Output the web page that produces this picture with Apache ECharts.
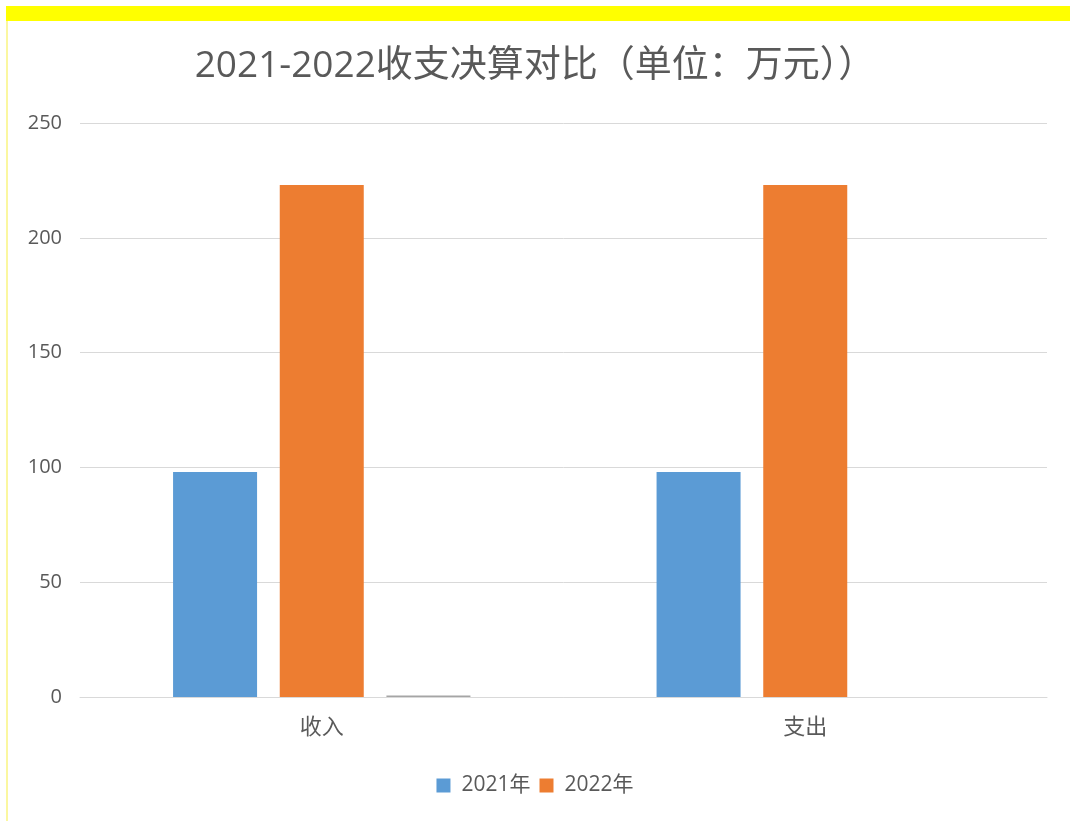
<!DOCTYPE html>
<html lang="zh">
<head>
    <meta charset="UTF-8">
    <title>2021-2022收支决算对比</title>
    <script src="https://cdn.jsdelivr.net/npm/echarts@6/dist/echarts.min.js"></script>
    <style>
        html, body { margin: 0; padding: 0; background: #fff; }
        #chart { width: 1070px; height: 821px; }
    </style>
</head>
<body>
<div id="chart"></div>
<script>
    // 数据
    var categories = ['收入', '支出'];
    var values2021 = [98, 98];
    var values2022 = [223, 223];
    var values3 = [0.6, 0];   // 第三个系列，几乎为0，图例中未显示
    var yTicks = { min: 0, max: 250, interval: 50 };

    var font = '"Open Sans", "Noto Sans CJK SC", sans-serif';
    var textColor = '#595959';

    var myChart = echarts.init(document.getElementById('chart'));
    var option = {
        backgroundColor: '#ffffff',
        animation: false,
        textStyle: { fontFamily: font },
        graphic: [
            // 顶部黄色条
            { type: 'rect', left: 6, top: 6, shape: { width: 1064, height: 15 }, style: { fill: '#ffff00' }, z: 10 },
            // 左侧黄色细线
            { type: 'rect', left: 6, top: 21, shape: { width: 2, height: 800 }, style: { fill: '#fbf7a0' }, z: 10 }
        ],
        title: {
            text: '2021-2022收支决算对比（单位：万元））',
            left: 'center',
            top: 43,
            textStyle: {
                fontFamily: font,
                fontSize: 37,
                fontWeight: 'normal',
                color: textColor
            }
        },
        legend: {
            bottom: 20,
            left: 'center',
            itemWidth: 14,
            itemHeight: 14,
            itemGap: 9,
            icon: 'rect',
            data: ['2021年', '2022年'],
            textStyle: { fontFamily: font, fontSize: 21, color: textColor, padding: [0, 0, 0, 6] }
        },
        grid: {
            left: 80,
            right: 23,
            top: 123,
            bottom: 124
        },
        xAxis: {
            type: 'category',
            data: categories,
            axisLine: { lineStyle: { color: '#d9d9d9', width: 1 } },
            axisTick: { show: false },
            axisLabel: { fontSize: 22, color: textColor, margin: 20, fontFamily: font }
        },
        yAxis: {
            type: 'value',
            min: yTicks.min,
            max: yTicks.max,
            interval: yTicks.interval,
            axisLine: { show: false },
            axisTick: { show: false },
            axisLabel: { fontSize: 20, color: textColor, margin: 18, fontFamily: font },
            splitLine: { lineStyle: { color: '#d9d9d9', width: 1 } }
        },
        series: [
            {
                name: '2021年',
                type: 'bar',
                barWidth: 84,
                barGap: '27%',
                itemStyle: { color: '#5b9bd5' },
                data: values2021
            },
            {
                name: '2022年',
                type: 'bar',
                barWidth: 84,
                barGap: '27%',
                itemStyle: { color: '#ed7d31' },
                data: values2022
            },
            {
                name: '其他',
                type: 'bar',
                barWidth: 84,
                barGap: '27%',
                itemStyle: { color: '#a5a5a5' },
                data: values3
            }
        ]
    };
    myChart.setOption(option);
</script>
</body>
</html>
